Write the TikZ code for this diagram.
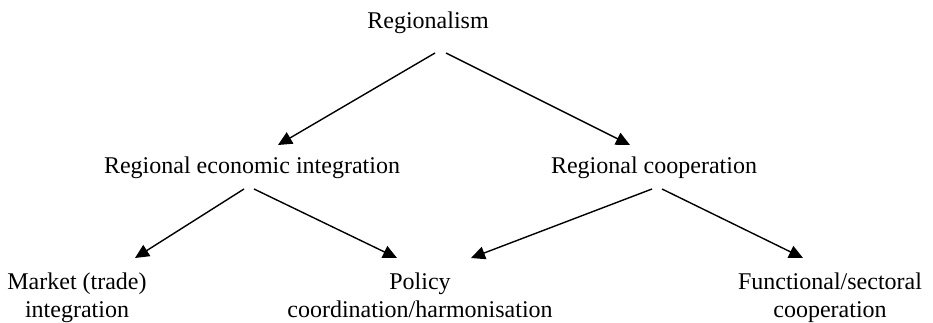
\documentclass[tikz,border=0pt]{standalone}
\usepackage{fontspec}
\setmainfont{Liberation Serif}
\usetikzlibrary{arrows.meta,calc}

\begin{document}
\begin{tikzpicture}[
      x=1pt, y=-1pt,
      every node/.style={inner sep=0pt, anchor=base, align=center,
        font=\fontsize{24}{28}\selectfont},
      link/.style={-{Triangle[length=14pt,width=13pt]}, line width=1.4pt}
    ]
      \useasboundingbox (0,0) rectangle (933,323);
      \node (region) at (428,29) {Regionalism};
      \node (integ) at (252,173) {Regional economic integration};
      \node (coop) at (654,173) {Regional cooperation};
      % two-line nodes: base is the last line
      \node (market) at (77,317) {Market (trade)\\integration};
      \node (policy) at (420,317) {Policy\\coordination/harmonisation};
      \node (sector) at (830,317) {Functional/sectoral\\cooperation};
      \draw[link] ($(region.base)+(7,24)$) -- ($(integ.base)+(26,-28)$);
      \draw[link] ($(region.base)+(18,24)$) -- ($(coop.base)+(-24,-28)$);
      \draw[link] ($(integ.base)+(-8,16)$) -- ($(market.base)+(58,-59)$);
      \draw[link] ($(integ.base)+(2,16)$) -- ($(policy.base)+(-23,-59)$);
      \draw[link] ($(coop.base)+(-2,16)$) -- ($(policy.base)+(51,-59)$);
      \draw[link] ($(coop.base)+(8,16)$) -- ($(sector.base)+(-27,-59)$);
    \end{tikzpicture}
\end{document}
